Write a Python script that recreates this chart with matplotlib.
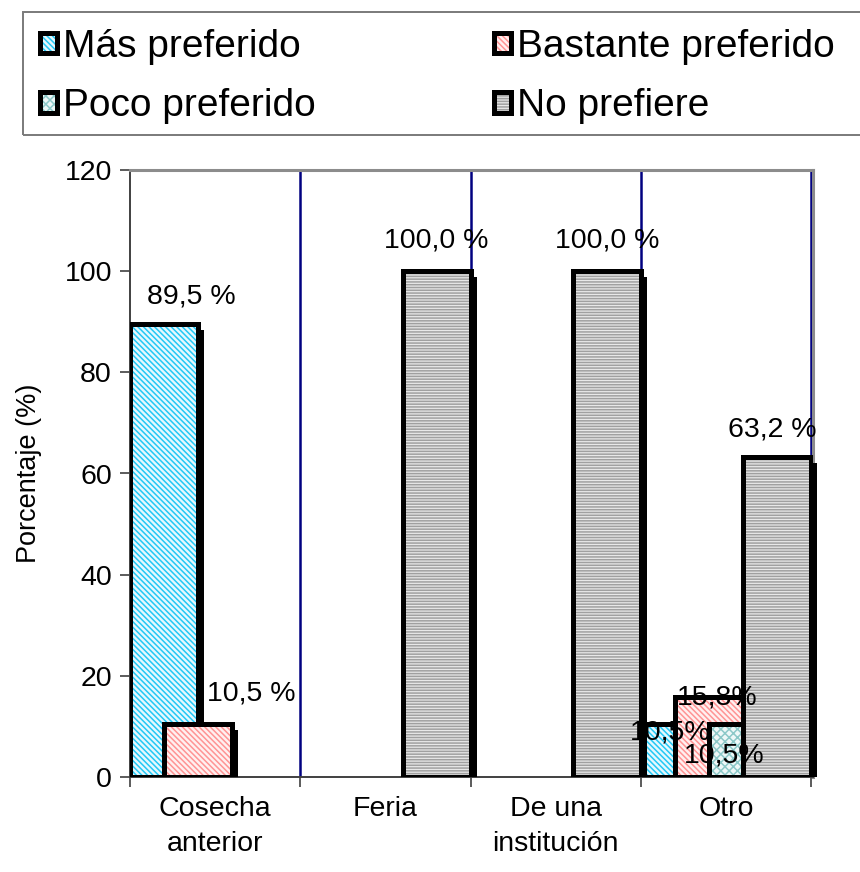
import matplotlib
matplotlib.use("Agg")
import matplotlib.pyplot as plt
from matplotlib.patches import Patch, Rectangle

plt.rcParams["font.family"] = ["Liberation Sans", "DejaVu Sans"]
plt.rcParams["hatch.linewidth"] = 1.1

# --- data -------------------------------------------------------------
CATEGORIES = ["Cosecha\nanterior", "Feria", "De una\ninstitución", "Otro"]
SERIES = ["Más preferido", "Bastante preferido", "Poco preferido", "No prefiere"]
MAS = [89.5, 0.0, 0.0, 10.5]
BASTANTE = [10.5, 0.0, 0.0, 15.8]
POCO = [0.0, 0.0, 0.0, 10.5]
NO_PREFIERE = [0.0, 100.0, 100.0, 63.2]
VALUES = [MAS, BASTANTE, POCO, NO_PREFIERE]

# data labels: text, (category, series) they belong to
LABEL_TEXT = ["89,5 %", "10,5 %", "100,0 %", "100,0 %", "63,2 %",
              "10,5%", "15,8%", "10,5%"]
LABEL_OF = [(0, 0), (0, 1), (1, 3), (2, 3), (3, 3), (3, 0), (3, 1), (3, 2)]
# label centre relative to bar centre (x, categories) and bar top (y, %)
LABEL_SHIFT = [(0.16, 5.4), (0.31, 6.1), (0.0, 6.0), (0.0, 6.0), (-0.03, 5.4),
               (-0.03, -1.8), (0.05, 0.0), (-0.11, -6.2)]

# --- style ------------------------------------------------------------
# hatch density: each symbol adds 6 lines per inch-sized hatch cell
FACE = ["#e6f8fe", "#fff0f0", "#eef8f8", "#e8e8e8"]
HATCH_COLOR = ["#22c8f5", "#ff9494", "#8cc8c8", "#a0a0a0"]
HATCH = ["\\" * 6, "\\" * 6, "x" * 4, "-" * 6]
BAR_W = 0.4
STEP = 0.2
SHADOW_DX = 0.035
SHADOW_DY = 1.2
EDGE_LW = 3.6

fig = plt.figure(figsize=(8.6, 8.72), dpi=100)
ax = fig.add_axes([130 / 860, 1 - 777 / 872, 683 / 860, 607 / 872])

for i, vals in enumerate(VALUES):
    z = 2 + 3 * i
    for c, v in enumerate(vals):
        if v <= 0:
            continue
        left = c + i * STEP
        # drop shadow, then hatched fill, then black outline
        ax.bar(left + SHADOW_DX, v - SHADOW_DY, width=BAR_W, align="edge",
               color="black", linewidth=0, clip_on=False, zorder=z)
        ax.bar(left, v, width=BAR_W, align="edge", facecolor=FACE[i],
               edgecolor=HATCH_COLOR[i], hatch=HATCH[i], linewidth=0,
               zorder=z + 1)
        ax.bar(left, v, width=BAR_W, align="edge", facecolor="none",
               edgecolor="black", linewidth=EDGE_LW, zorder=z + 2)

for txt, (c, i), (dx, dy) in zip(LABEL_TEXT, LABEL_OF, LABEL_SHIFT):
    v = VALUES[i][c]
    ax.text(c + i * STEP + BAR_W / 2 + dx, v + dy, txt, ha="center", va="center",
            fontsize=20.5, zorder=20)

# category separators
for b in range(1, len(CATEGORIES) + 1):
    ax.axvline(b, color="#000080", lw=1.8, zorder=1)

ax.set_xlim(0, len(CATEGORIES) + 0.01)
ax.set_ylim(0, 120)
ax.set_yticks(range(0, 121, 20))
ax.set_xticks(range(len(CATEGORIES) + 1))
ax.set_xticklabels([])
ax.set_xticks([c + 0.5 for c in range(len(CATEGORIES))], minor=True)
ax.set_xticklabels(CATEGORIES, minor=True, fontsize=20.5, linespacing=1.45,
                   va="top")
ax.tick_params(axis="x", which="minor", length=0, pad=14)
ax.tick_params(axis="x", which="major", length=7, width=1.2, color="#404040")
ax.tick_params(axis="y", length=7, width=1.2, color="#404040", labelsize=20.5,
               pad=6)
ax.set_ylabel("Porcentaje (%)", fontsize=19.5, labelpad=16)

for side in ("left", "bottom"):
    ax.spines[side].set_color("#404040")
    ax.spines[side].set_linewidth(1.4)
for side in ("top", "right"):
    ax.spines[side].set_color("#8c8c8c")
    ax.spines[side].set_linewidth(2.2)

# legend with its own frame
handles = [(Patch(facecolor=FACE[i], edgecolor=HATCH_COLOR[i], hatch=HATCH[i],
                  linewidth=0),
            Patch(facecolor="none", edgecolor="black", linewidth=3.6))
           for i in range(len(SERIES))]
order = [0, 2, 1, 3]
fig.legend([handles[k] for k in order], [SERIES[k] for k in order], ncol=2,
           loc="upper left", bbox_to_anchor=(40 / 860, 1 - 29 / 872),
           frameon=False, fontsize=28, handlelength=0.44, handleheight=0.44,
           handletextpad=0.14, columnspacing=4.6, labelspacing=0.6,
           borderpad=0, borderaxespad=0)
fig.add_artist(Rectangle((23 / 860, 1 - 135 / 872), 850 / 860, 123 / 872,
                         transform=fig.transFigure, facecolor="none",
                         edgecolor="#7a7a7a", linewidth=1.4, clip_on=False))

fig.savefig("out.png", dpi=100)
